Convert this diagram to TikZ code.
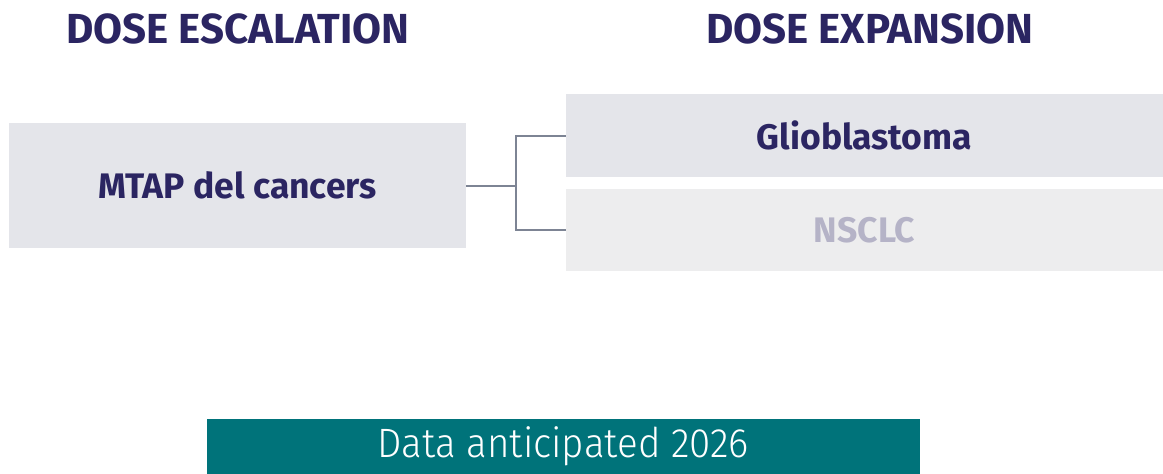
\documentclass[tikz,border=0pt]{standalone}
\usepackage{fontspec}
\setmainfont{Fira Sans}
\newfontfamily\narrowfont[FakeStretch=0.94]{Fira Sans Light}
\usetikzlibrary{positioning}
\definecolor{navy}{HTML}{2B2562}
\definecolor{boxgray}{HTML}{E4E5EA}
\definecolor{fadegray}{HTML}{EDEDEE}
\definecolor{fadetext}{HTML}{B5B3C7}
\definecolor{linkgray}{HTML}{7D8494}
\definecolor{teal}{HTML}{00737A}
\tikzstyle{heading} = [font=\fontsize{42}{48}\selectfont\bfseries, text=navy]
\tikzstyle{cohort} = [rectangle, fill=boxgray, text=navy, font=\fontsize{35.5}{40}\selectfont\bfseries, inner sep=0pt]
\tikzstyle{faded} = [cohort, fill=fadegray, text=fadetext]
\tikzstyle{link} = [draw=linkgray, line width=2pt]

\begin{document}
\begin{tikzpicture}[x=1pt, y=-1pt] % one unit per pixel
\useasboundingbox (0,0) rectangle (1163,474);

% Headings
\node (escTitle) [heading] at (238,29) {DOSE ESCALATION};
\node (expTitle) [heading] at (870,29) {DOSE EXPANSION};

% Boxes
\node (mtap) [cohort, minimum width=457pt, minimum height=125pt] at (237.5,185.5) {MTAP del cancers};
\node (glio) [cohort, minimum width=597pt, minimum height=83pt] at (864.5,135.5) {Glioblastoma};
\node (nsclc) [faded, minimum width=597pt, minimum height=82pt] at (864.5,230) {NSCLC};
\node (data) [rectangle, fill=teal, text=white, inner sep=0pt, minimum width=713pt, minimum height=55pt,
  font=\narrowfont\fontsize{41}{46}\selectfont] at (563.5,446.5) {Data anticipated 2026};

% Links
\coordinate (split) at ([xshift=50pt]mtap.east);
\draw [link] (mtap.east) -- (split);
\draw [link] (split) |- (glio.west);
\draw [link] (split) |- (nsclc.west);

\end{tikzpicture}
\end{document}
